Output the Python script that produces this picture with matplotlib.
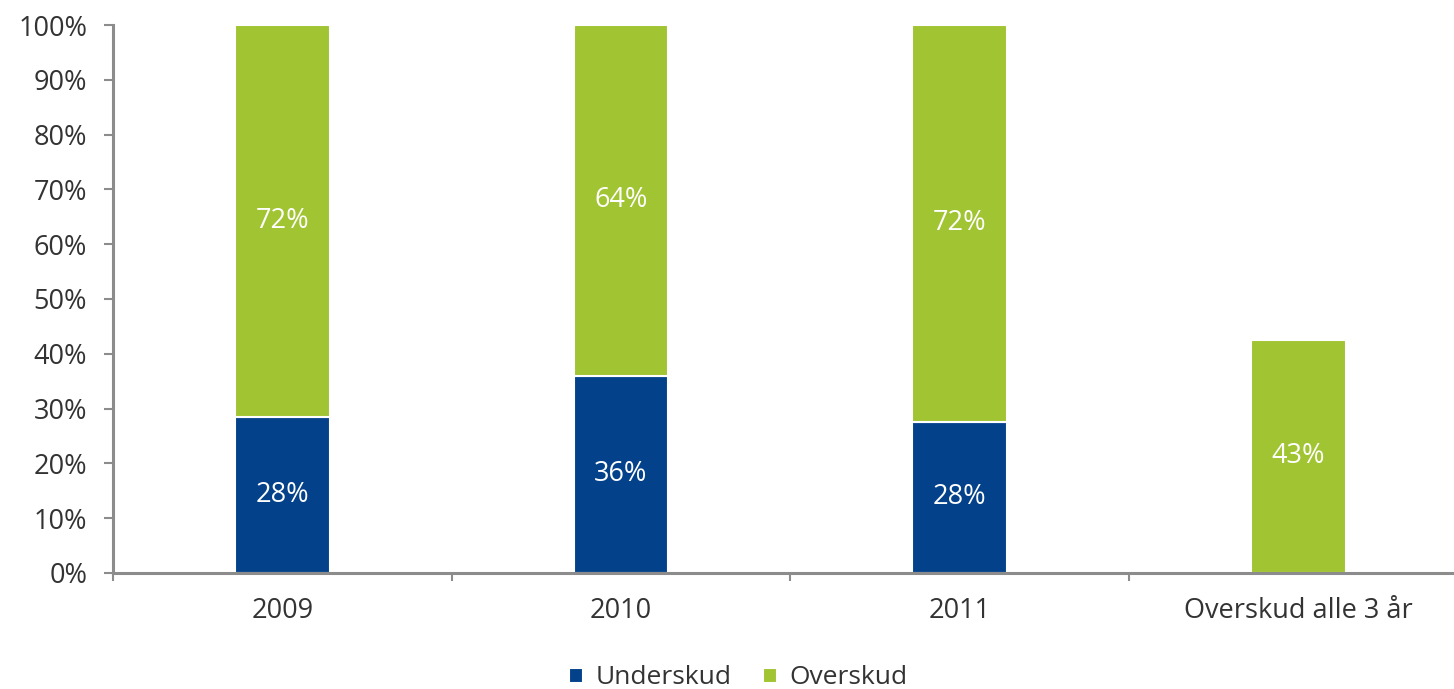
import matplotlib
matplotlib.use('Agg')
import matplotlib.pyplot as plt
import numpy as np

# --- Data ---
categories = ['2009', '2010', '2011', 'Overskud alle 3 år']
underskud = [28.4, 36.0, 27.6, 0.0]
overskud = [71.6, 64.0, 72.4, 42.6]
series_names = ['Underskud', 'Overskud']

blue = '#03428A'
green = '#A1C432'
text_col = '#333333'
axis_col = '#8C8C8C'

plt.rcParams['font.family'] = ['Open Sans', 'DejaVu Sans']
fs = 19.5

fig = plt.figure(figsize=(14.54, 6.89), dpi=100)
ax = fig.add_axes([0.0777, 0.1684, 0.9223, 0.7953])

x = np.arange(len(categories))
width = 0.28

ax.bar(x, underskud, width, color=blue, edgecolor='white', linewidth=1.5,
       label=series_names[0])
ax.bar(x, overskud, width, bottom=underskud, color=green, edgecolor='white',
       linewidth=1.5, label=series_names[1])

# value labels
for i in range(len(categories)):
    if underskud[i] > 0:
        ax.text(x[i], underskud[i] / 2, f'{underskud[i]:.0f}%', ha='center', va='center',
                color='white', fontsize=fs)
    ax.text(x[i], underskud[i] + overskud[i] / 2, f'{overskud[i]:.0f}%', ha='center',
            va='center', color='white', fontsize=fs)

ax.set_yticks(np.arange(0, 101, 10))
ax.set_yticklabels([f'{v}%' for v in range(0, 101, 10)])
ax.set_xticks(x)
ax.set_xticklabels(categories)
ax.set_xticks(np.arange(-0.5, 3.0, 1), minor=True)
ax.set_ylim(0, 100)
ax.set_xlim(-0.5, 3.46)

ax.tick_params(axis='y', direction='out', length=6.5, width=1.5, color=axis_col,
               labelsize=fs, labelcolor=text_col, pad=12)
ax.tick_params(axis='x', which='major', length=0, labelsize=fs, labelcolor=text_col, pad=17)
ax.tick_params(axis='x', which='minor', direction='out', length=6, width=1.5, color=axis_col)

for s in ['top', 'right']:
    ax.spines[s].set_visible(False)
for s in ['left', 'bottom']:
    ax.spines[s].set_color(axis_col)
    ax.spines[s].set_linewidth(2.2)

fig.legend(loc='center', bbox_to_anchor=(0.508, 0.016), ncol=2, frameon=False,
           fontsize=19, handlelength=0.5, handleheight=0.5, handletextpad=0.5,
           columnspacing=1.2, labelcolor=text_col, borderpad=0)

fig.savefig('out.png', dpi=100, facecolor='white')
